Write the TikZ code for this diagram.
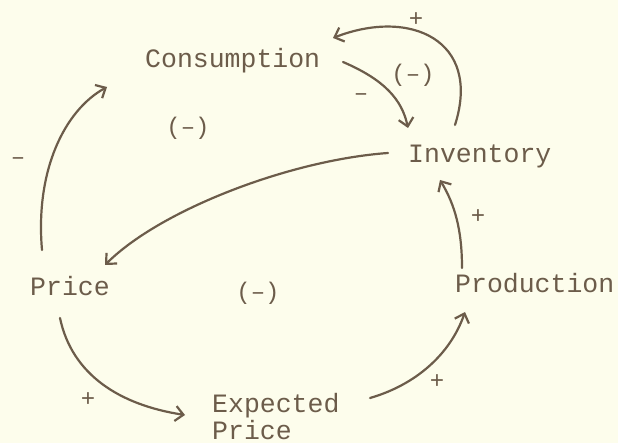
\documentclass[tikz,border=0pt]{standalone}
\usepackage{fontspec}
\setmonofont{Liberation Mono}
\usetikzlibrary{arrows.meta}
\definecolor{ink}{RGB}{108,92,74}
\definecolor{paper}{RGB}{253,253,236}
\tikzset{
  lbl/.style={inner sep=0pt, text=ink, font=\ttfamily\fontsize{26.5}{27}\selectfont},
  sgn/.style={inner sep=0pt, text=ink, font=\ttfamily\fontsize{24}{26}\selectfont},
  arr/.style={draw=ink, line width=2.2pt, line cap=round, -{Straight Barb[length=8pt,width=15pt]}}
}
\begin{document}
\begin{tikzpicture}[x=1pt,y=1pt]
\fill[paper] (0,0) rectangle (618,-443);
\useasboundingbox (0,0) rectangle (618,-443);
% nodes
\node[lbl, anchor=base west] (cons) at (145,-68) {Consumption};
\node[lbl, anchor=base west] (inv) at (408,-163) {Inventory};
\node[lbl, anchor=base west] (price) at (30,-296) {Price};
\node[lbl, anchor=base west] (prod) at (455,-293) {Production};
\node[lbl, anchor=north west, align=left] (exp) at (212,-393) {Expected\\Price};
% signs
\node[sgn] (s1) at (416,-20) {+};
\node[sgn] (s2) at (413,-75) {(–)};
\node[sgn] (s3) at (361,-97) {–};
\node[sgn] (s4) at (188,-128) {(–)};
\node[sgn] (s5) at (18,-161) {–};
\node[sgn] (s6) at (478,-217) {+};
\node[sgn] (s7) at (258,-293) {(–)};
\node[sgn] (s8) at (88,-400) {+};
\node[sgn] (s9) at (437,-382) {+};
% connectors
\draw[arr] ([shift={(198,6)}]cons.base west) .. controls (385,-80) and (402,-100) .. ([shift={(0,35)}]inv.base west);
\draw[arr] ([shift={(47,38)}]inv.base west) .. controls (482,-40) and (410,-8) .. ([shift={(188,30)}]cons.base west);
\draw[arr] ([shift={(-20,10)}]inv.base west) .. controls (290,-160) and (160,-210) .. ([shift={(75,31)}]price.base west);
\draw[arr] ([shift={(12,46)}]price.base west) .. controls (35,-170) and (65,-110) .. ([shift={(-38,-19)}]cons.base west);
\draw[arr] ([shift={(30,-22)}]price.base west) .. controls (72,-375) and (120,-405) .. ([shift={(-27,-22)}]exp.north west);
\draw[arr] ([shift={(158,-5)}]exp.north west) .. controls (415,-385) and (450,-355) .. ([shift={(10,-19)}]prod.base west);
\draw[arr] ([shift={(7,25)}]prod.base west) .. controls (462,-230) and (455,-205) .. ([shift={(32,-17)}]inv.base west);
\end{tikzpicture}
\end{document}
